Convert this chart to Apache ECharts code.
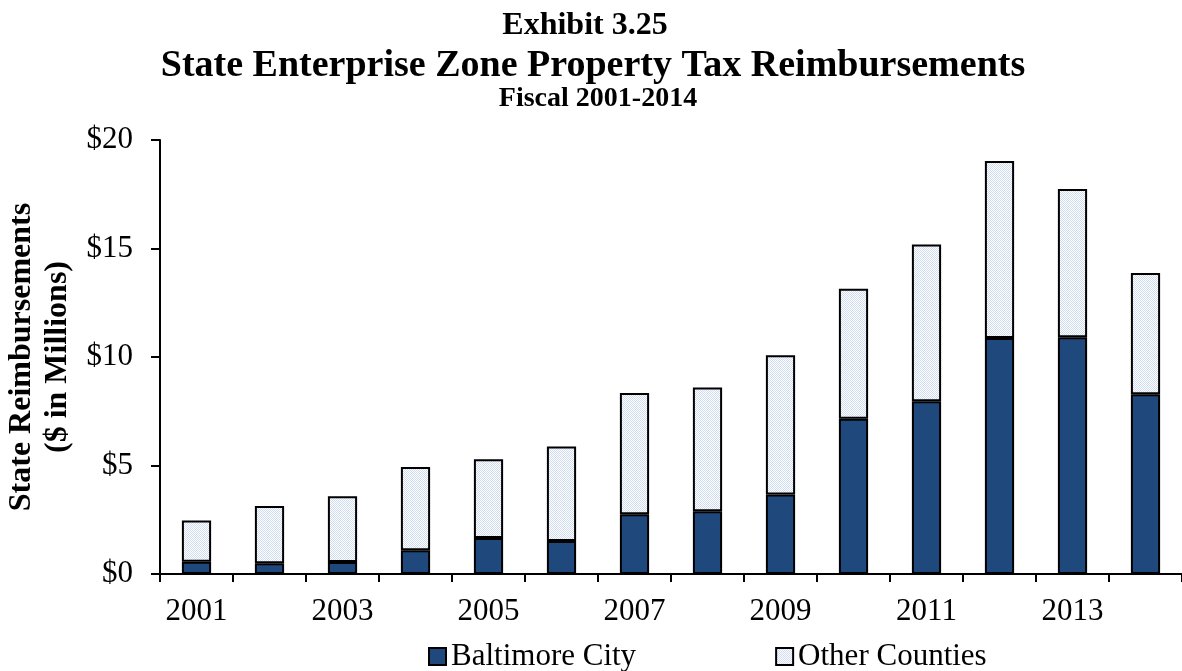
<!DOCTYPE html>
<html>
<head>
<meta charset="utf-8">
<script src="https://cdn.jsdelivr.net/npm/echarts@6/dist/echarts.min.js"></script>
<style>
html,body{margin:0;padding:0;background:#fff;}
#chart{width:1182px;height:671px;}
</style>
</head>
<body>
<div id="chart"></div>
<script>
const years = ['2001','2002','2003','2004','2005','2006','2007','2008','2009','2010','2011','2012','2013','2014'];
const baltimoreCity = [0.57,0.49,0.55,1.09,1.66,1.52,2.75,2.89,3.66,7.16,7.96,10.88,10.91,8.28];
const otherCounties = [1.89,2.64,3.03,3.84,3.63,4.35,5.59,5.70,6.42,5.99,7.23,8.15,6.83,5.59];
const yTicks = [0,5,10,15,20];

const FONT = '"Liberation Serif","Times New Roman",serif';

const pat = document.createElement('canvas');
pat.width = 4; pat.height = 4;
const pc = pat.getContext('2d');
pc.fillStyle = '#ffffff'; pc.fillRect(0,0,4,4);
pc.fillStyle = '#cfdbf0';
pc.fillRect(0,0,1,1); pc.fillRect(2,0,1,1); pc.fillRect(1,1,1,1); pc.fillRect(3,1,1,1);
pc.fillRect(0,2,1,1); pc.fillRect(2,2,1,1); pc.fillRect(1,3,1,1); pc.fillRect(3,3,1,1);

const chart = echarts.init(document.getElementById('chart'));
chart.setOption({
  animation: false,
  backgroundColor: '#fff',
  title: [
    {text: 'Exhibit 3.25', left: 580, textAlign: 'center', top: 5, textStyle: {fontFamily: FONT, fontWeight: 'bold', fontSize: 32, color: '#000'}},
    {text: 'State Enterprise Zone Property Tax Reimbursements', left: 588, textAlign: 'center', top: 42, textStyle: {fontFamily: FONT, fontWeight: 'bold', fontSize: 38, color: '#000'}},
    {text: 'Fiscal 2001-2014', left: 593, textAlign: 'center', top: 80, textStyle: {fontFamily: FONT, fontWeight: 'bold', fontSize: 28, color: '#000'}}
  ],
  graphic: [
    {type: 'text', x: 40, y: 357, rotation: Math.PI/2,
     style: {text: 'State Reimbursements\n($ in Millions)', x: 0, y: 0, align: 'center', verticalAlign: 'middle',
             font: 'bold 32px ' + FONT, lineHeight: 36, fill: '#000'}}
  ],
  legend: {
    top: 636, left: 423, itemGap: 139, itemWidth: 17, itemHeight: 17, icon: 'rect',
    textStyle: {fontFamily: FONT, fontSize: 31, color: '#000', padding: [0,0,0,0]},
    data: ['Baltimore City','Other Counties']
  },
  grid: {left: 160, top: 140, width: 1029, bottom: 97, containLabel: false},
  xAxis: {
    type: 'category', data: years, boundaryGap: true,
    axisLine: {lineStyle: {color: '#000', width: 2}},
    axisTick: {show: true, interval: 0, length: 8, lineStyle: {color: '#000', width: 2}},
    axisLabel: {interval: 1, fontFamily: FONT, fontSize: 31, color: '#000', margin: 22}
  },
  yAxis: {
    type: 'value', min: 0, max: 20, interval: 5,
    axisLine: {show: true, lineStyle: {color: '#000', width: 2}},
    axisTick: {show: true, length: 9, lineStyle: {color: '#000', width: 2}},
    splitLine: {show: false},
    axisLabel: {fontFamily: FONT, fontSize: 31, color: '#000', margin: 27, formatter: v => '$' + v}
  },
  series: [
    {name: 'Baltimore City', type: 'bar', stack: 'a', barWidth: '40%', data: baltimoreCity,
     itemStyle: {color: '#1f497d', borderColor: '#000', borderWidth: 2}},
    {name: 'Other Counties', type: 'bar', stack: 'a', barWidth: '40%', data: otherCounties,
     itemStyle: {color: {image: pat, repeat: 'repeat'}, borderColor: '#000', borderWidth: 2}}
  ]
});
</script>
</body>
</html>
